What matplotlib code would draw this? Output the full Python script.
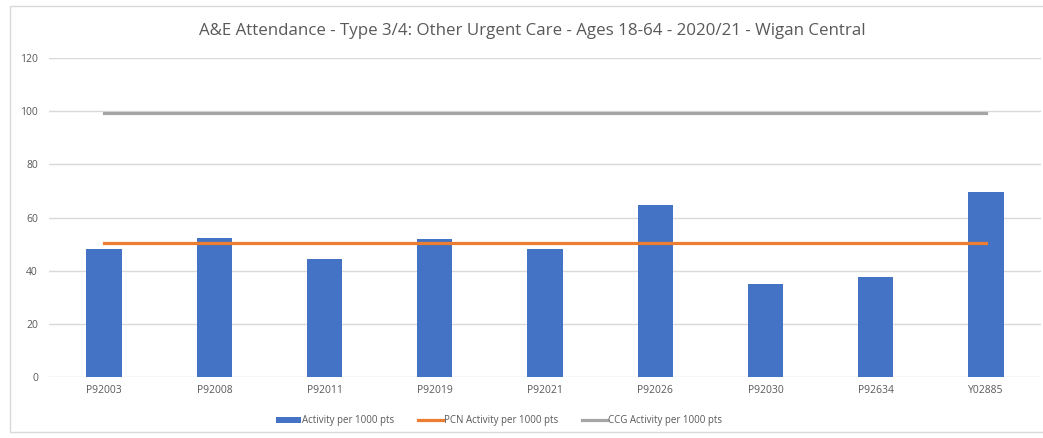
import matplotlib
matplotlib.use("Agg")
import matplotlib.pyplot as plt
from matplotlib.patches import Rectangle
import numpy as np

# practice codes and attendance rates
practices = ["P92003", "P92008", "P92011", "P92019", "P92021",
             "P92026", "P92030", "P92634", "Y02885"]
activity = [48.0, 52.4, 44.5, 52.0, 48.0, 64.8, 34.8, 37.8, 69.6]
pcn_rate = 50.4
ccg_rate = 99.2

plt.rcParams['font.family'] = ['Open Sans', 'DejaVu Sans']
txt = '#595959'

fig = plt.figure(figsize=(10.43, 4.38), dpi=100)
ax = fig.add_axes([49/1043, 61/438, 992/1043, 319/438])

x = np.arange(len(practices))
bars = ax.bar(x, activity, width=0.32, color='#4472C4', label='Activity per 1000 pts', zorder=2)
pcn, = ax.plot(x, [pcn_rate]*len(x), color='#ED7D31', lw=2.3, label='PCN Activity per 1000 pts', zorder=3)
ccg, = ax.plot(x, [ccg_rate]*len(x), color='#A5A5A5', lw=2.3, label='CCG Activity per 1000 pts', zorder=3)

ax.set_xlim(-0.5, len(x) - 0.5)
ax.set_ylim(0, 120)
ax.set_yticks(range(0, 121, 20))
ax.set_xticks(x)
ax.set_xticklabels(practices)
ax.grid(axis='y', color='#d9d9d9', lw=1, zorder=0)
for s in ax.spines.values():
    s.set_visible(False)
ax.tick_params(length=0, colors=txt, labelsize=7.5)
ax.tick_params(axis='y', pad=8)
ax.tick_params(axis='x', pad=6)

fig.suptitle('A&E Attendance - Type 3/4: Other Urgent Care - Ages 18-64 - 2020/21 - Wigan Central',
             x=532/1043, y=1 - 31/438, va='center', fontsize=12.2, color=txt)

leg = fig.legend([bars, pcn, ccg], [bars.get_label(), pcn.get_label(), ccg.get_label()],
                 loc='center', bbox_to_anchor=(499/1043, 1 - 421/438), ncol=3, frameon=False,
                 fontsize=7, labelcolor=txt, handlelength=2.6, handleheight=0.5,
                 handletextpad=0.1, columnspacing=2.4)

# outer chart frame
fig.patches.append(Rectangle((10/1043, 6/438), 1, 1 - 12/438, transform=fig.transFigure,
                             fill=False, edgecolor='#d9d9d9', lw=1))

fig.savefig('out.png', dpi=100)
